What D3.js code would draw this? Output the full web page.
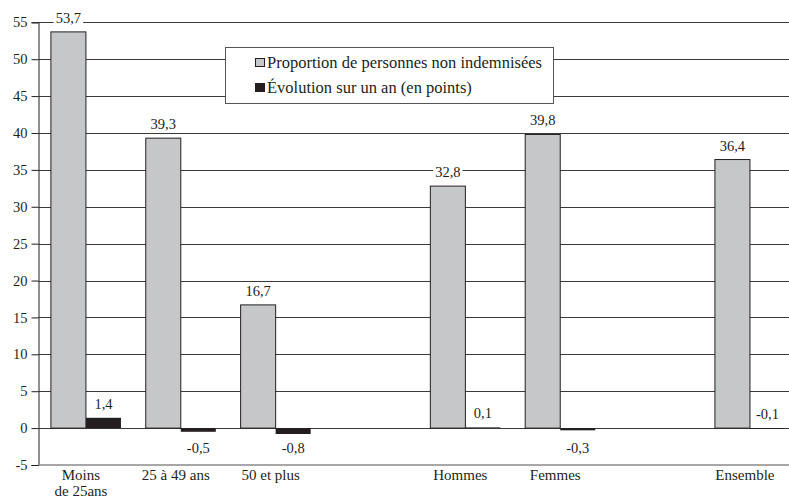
<!DOCTYPE html>
<html lang="fr">
<head>
<meta charset="UTF-8">
<script src="https://d3js.org/d3.v7.min.js"></script>
<style>
  body { margin: 0; background: #fff; }
  text { font-family: "Liberation Serif", "Times New Roman", serif; fill: #231f20; }
</style>
</head>
<body>
<script>
    // categories (blank slots keep the gaps between the groups)
    var categories = ["Moins|de 25ans", "25 à 49 ans", "50 et plus", "gap1", "Hommes", "Femmes", "gap2", "Ensemble"];
    var proportion = [53.7, 39.3, 16.7, null, 32.8, 39.8, null, 36.4];
    var evolution = [1.4, -0.5, -0.8, null, 0.1, -0.3, null, -0.1];
    var seriesNames = ["Proportion de personnes non indemnisées", "Évolution sur un an (en points)"];
    var yTicks = [-5, 0, 5, 10, 15, 20, 25, 30, 35, 40, 45, 50, 55];

    var width = 789;
    var height = 498;
    var left = 38.5;
    var slot = 94.86;

    var svg = d3.select("body").append("svg")
        .attr("width", width)
        .attr("height", height);

    var x = d3.scaleBand()
        .domain(categories)
        .range([left, left + slot * categories.length]);

    var inner = d3.scaleBand()
        .domain(["prop", "evol"])
        .range([12.4, slot - 12.4]);

    var y = d3.scaleLinear()
        .domain([-5, 55])
        .range([465, 22.3]);

    var fmt = function (v) { return String(v).replace(".", ","); };

    // grid lines
    svg.append("g").selectAll("line")
        .data(yTicks.filter(function (d) { return d >= 0; }))
        .enter().append("line")
        .attr("x1", left).attr("x2", width)
        .attr("y1", function (d) { return Math.round(y(d)) + 0.5; })
        .attr("y2", function (d) { return Math.round(y(d)) + 0.5; })
        .attr("stroke", "#3a3a3a")
        .attr("stroke-width", 1);

    // left axis
    var yAxis = svg.append("g")
        .attr("transform", "translate(" + left + ",0)")
        .call(d3.axisLeft(y).tickValues(yTicks).tickSize(7).tickPadding(4)
            .tickFormat(function (d) { return String(d); }));
    yAxis.select(".domain").attr("stroke", "#231f20");
    yAxis.selectAll(".tick line").attr("stroke", "#231f20");
    yAxis.selectAll("text")
        .attr("font-size", 14.5)
        .attr("font-family", "Liberation Serif")
        .attr("fill", "#231f20");

    // bottom line at -5
    svg.append("line")
        .attr("x1", left).attr("x2", width)
        .attr("y1", y(-5)).attr("y2", y(-5))
        .attr("stroke", "#8a8a8a")
        .attr("stroke-width", 1.5);

    var rows = categories.map(function (c, i) {
        return { cat: c, prop: proportion[i], evol: evolution[i] };
    }).filter(function (d) { return d.prop !== null; });

    var groups = svg.append("g").selectAll("g")
        .data(rows)
        .enter().append("g")
        .attr("transform", function (d) { return "translate(" + x(d.cat) + ",0)"; });

    // gray bars
    groups.append("rect")
        .attr("x", inner("prop"))
        .attr("width", inner.bandwidth())
        .attr("y", function (d) { return y(d.prop); })
        .attr("height", function (d) { return y(0) - y(d.prop); })
        .attr("fill", "#c6c7c9")
        .attr("stroke", "#231f20")
        .attr("stroke-width", 1);

    // black bars
    groups.append("rect")
        .attr("x", inner("evol"))
        .attr("width", inner.bandwidth())
        .attr("y", function (d) { return y(Math.max(0, d.evol)); })
        .attr("height", function (d) { return Math.abs(y(d.evol) - y(0)); })
        .attr("fill", "#231f20");

    // value labels with white background
    function label(g, xPos, yPos, txt) {
        var t = g.append("text")
            .attr("x", xPos)
            .attr("y", yPos)
            .attr("text-anchor", "middle")
            .attr("font-size", 14.5)
            .text(txt);
        var bb = t.node().getBBox();
        g.insert("rect", function () { return t.node(); })
            .attr("x", bb.x - 2).attr("y", bb.y + 1)
            .attr("width", bb.width + 4).attr("height", bb.height - 2)
            .attr("fill", "#fff");
    }

    groups.each(function (d) {
        var g = d3.select(this);
        var cx1 = inner("prop") + inner.bandwidth() / 2;
        var cx2 = inner("evol") + inner.bandwidth() / 2;
        label(g, cx1, y(d.prop) - 9, fmt(d.prop));
        var ly;
        if (d.evol > -0.2) ly = y(Math.max(d.evol, 0)) - 9;
        else ly = y(0) + 25;
        label(g, cx2, ly, fmt(d.evol));
    });

    // category labels
    var xl = svg.append("g").selectAll("text")
        .data(categories.filter(function (c) { return c.indexOf("gap") !== 0; }))
        .enter().append("text")
        .attr("x", function (d) { return x(d) + slot / 2 - 5; })
        .attr("y", 480)
        .attr("text-anchor", "middle")
        .attr("font-size", 15);
    xl.each(function (d) {
        var parts = d.split("|");
        var t = d3.select(this);
        parts.forEach(function (p, i) {
            t.append("tspan")
                .attr("x", t.attr("x"))
                .attr("dy", i === 0 ? 0 : 16)
                .text(p);
        });
    });

    // legend
    var legend = svg.append("g").attr("transform", "translate(225,47)");
    legend.append("rect")
        .attr("x", 0.5).attr("y", 0.5)
        .attr("width", 328).attr("height", 56)
        .attr("fill", "#fff")
        .attr("stroke", "#555")
        .attr("stroke-width", 1);
    var swatchFill = ["#c6c7c9", "#231f20"];
    seriesNames.forEach(function (s, i) {
        legend.append("rect")
            .attr("x", 30.5).attr("y", 11.5 + i * 25)
            .attr("width", 9).attr("height", 8)
            .attr("fill", swatchFill[i])
            .attr("stroke", "#231f20")
            .attr("stroke-width", 1);
        legend.append("text")
            .attr("x", 42)
            .attr("y", 21 + i * 25)
            .attr("font-size", 16.5)
            .text(s);
    });
</script>
</body>
</html>
